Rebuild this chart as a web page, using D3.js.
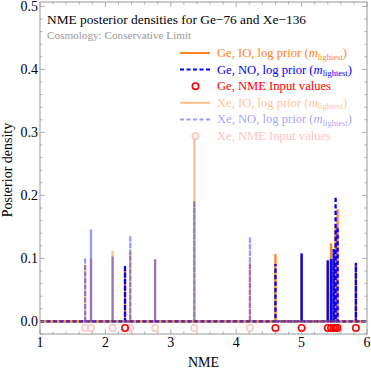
<!DOCTYPE html>
<html>
<head>
<meta charset="utf-8">
<script src="https://cdn.jsdelivr.net/npm/d3@7"></script>
<style>
  body { margin: 0; background: #fff; }
  text { font-family: "Liberation Serif", "DejaVu Serif", serif; }
</style>
</head>
<body>
<div id="chart"></div>
<script>
// NME input values (peak positions)
const geNME = [2.30, 4.60, 5.00, 5.40, 5.45, 5.49, 5.52, 5.55, 5.83];
const xeNME = [1.69, 1.78, 2.11, 2.38, 2.76, 3.36, 4.21];

// posterior density peak heights
const geIO = [0.085, 0.107, 0.105, 0.095, 0.124, 0.100, 0.150, 0.178, 0.090];
const geNO = [0.089, 0.091, 0.108, 0.097, 0.099, 0.115, 0.198, 0.150, 0.093];
const xeIO = [0.090, 0.100, 0.112, 0.110, 0.098, 0.291, 0.094];
const xeNO = [0.101, 0.146, 0.103, 0.136, 0.099, 0.191, 0.134];

const xTicks = [1, 2, 3, 4, 5, 6];
const yTicks = [0.0, 0.1, 0.2, 0.3, 0.4, 0.5];

const W = 371, H = 371;
const pLeft = 40, pRight = 367, pTop = 2, pBottom = 334;

const orange = "#ff8419", blue = "#0000ff", red = "#ff0000";

const svg = d3.select("#chart").append("svg")
  .attr("width", W).attr("height", H);

const x = d3.scaleLinear().domain([1, 6]).range([pLeft, pRight]);
const y = d3.scaleLinear().domain([-0.02, 0.507]).range([pBottom, pTop]);

// clip to plot region
svg.append("clipPath").attr("id", "clip")
  .append("rect").attr("x", pLeft).attr("y", pTop)
  .attr("width", pRight - pLeft).attr("height", pBottom - pTop);

const plot = svg.append("g").attr("clip-path", "url(#clip)");

// density curve: flat baseline with a narrow spike at each NME value
function spikes(pos, hts) {
  const pts = [[1, 0]];
  pos.forEach((p, i) => { pts.push([p, 0], [p, hts[i]], [p, 0]); });
  pts.push([6, 0]);
  return d3.line().x(d => x(d[0])).y(d => y(d[1]))(pts);
}

const series = [
  { pos: geNME, h: geIO, color: orange, op: 1, dash: null },
  { pos: geNME, h: geNO, color: blue, op: 1, dash: "4,2.5" },
  { pos: xeNME, h: xeIO, color: orange, op: 0.5, dash: null },
  { pos: xeNME, h: xeNO, color: blue, op: 0.4, dash: "4,2.5" }
];

plot.selectAll("path.curve")
  .data(series)
  .join("path")
  .attr("class", "curve")
  .attr("d", d => spikes(d.pos, d.h))
  .attr("fill", "none")
  .attr("stroke", d => d.color)
  .attr("stroke-opacity", d => d.op)
  .attr("stroke-width", 2.3)
  .attr("stroke-dasharray", d => d.dash);

// input value markers
plot.selectAll("circle.xe")
  .data(xeNME)
  .join("circle")
  .attr("class", "xe")
  .attr("cx", d => x(d)).attr("cy", y(-0.0105)).attr("r", 3.2)
  .attr("fill", "none").attr("stroke", "#ffc4c4").attr("stroke-width", 1.5);

plot.selectAll("circle.ge")
  .data(geNME)
  .join("circle")
  .attr("class", "ge")
  .attr("cx", d => x(d)).attr("cy", y(-0.0105)).attr("r", 3.2)
  .attr("fill", "none").attr("stroke", red).attr("stroke-width", 1.6);

// frame + ticks
const frameColor = "#9a9a9a";
svg.append("rect")
  .attr("x", pLeft).attr("y", pTop)
  .attr("width", pRight - pLeft).attr("height", pBottom - pTop)
  .attr("fill", "none").attr("stroke", frameColor).attr("stroke-width", 1);

const xMinor = d3.range(1, 6.001, 0.2).filter(v => Math.abs(v - Math.round(v)) > 1e-6);
const yMinor = d3.range(-0.02, 0.507, 0.02).filter(v => Math.abs(v * 10 - Math.round(v * 10)) > 1e-6);

const ticks = svg.append("g").attr("stroke", frameColor).attr("stroke-width", 0.8);
[[xTicks, 5], [xMinor, 2.5]].forEach(([vals, len]) => {
  vals.forEach(v => {
    ticks.append("line").attr("x1", x(v)).attr("x2", x(v)).attr("y1", pBottom).attr("y2", pBottom - len);
    ticks.append("line").attr("x1", x(v)).attr("x2", x(v)).attr("y1", pTop).attr("y2", pTop + len);
  });
});
[[yTicks, 5], [yMinor, 2.5]].forEach(([vals, len]) => {
  vals.forEach(v => {
    ticks.append("line").attr("y1", y(v)).attr("y2", y(v)).attr("x1", pLeft).attr("x2", pLeft + len);
    ticks.append("line").attr("y1", y(v)).attr("y2", y(v)).attr("x1", pRight).attr("x2", pRight - len);
  });
});

// tick labels
svg.append("g").selectAll("text")
  .data(xTicks).join("text")
  .attr("x", d => x(d)).attr("y", 347)
  .attr("text-anchor", "middle").attr("font-size", 14)
  .text(d => d);

svg.append("g").selectAll("text")
  .data(yTicks).join("text")
  .attr("x", 38).attr("y", d => y(d) + 5)
  .attr("text-anchor", "end").attr("font-size", 14)
  .text(d => d.toFixed(1));

// axis labels
svg.append("text")
  .attr("x", x(3.5)).attr("y", 367)
  .attr("text-anchor", "middle").attr("font-size", 14)
  .text("NME");

svg.append("text")
  .attr("transform", "translate(12,170) rotate(-90)")
  .attr("text-anchor", "middle").attr("font-size", 14)
  .text("Posterior density");

// title
svg.append("text")
  .attr("x", 47).attr("y", 24)
  .attr("font-size", 13.4)
  .text("NME posterior densities for Ge\u221276 and Xe\u2212136");
svg.append("text")
  .attr("x", 47).attr("y", 39)
  .attr("font-size", 11.2).attr("fill", "#999")
  .text("Cosmology: Conservative Limit");

// legend
const legendItems = [
  { label: "Ge, IO, log prior (", sub: true, type: "line", color: orange, op: 1, dash: null },
  { label: "Ge, NO, log prior (", sub: true, type: "line", color: blue, op: 1, dash: "4,2.5" },
  { label: "Ge, NME Input values", sub: false, type: "circle", color: red, op: 1 },
  { label: "Xe, IO, log prior (", sub: true, type: "line", color: orange, op: 0.5, dash: null },
  { label: "Xe, NO, log prior (", sub: true, type: "line", color: blue, op: 0.4, dash: "4,2.5" },
  { label: "Xe, NME Input values", sub: false, type: "circle", color: "#ffc4c4", op: 1 }
];

const legend = svg.append("g");
legendItems.forEach((d, i) => {
  const ly = 53 + i * 16.6;
  if (d.type === "line") {
    legend.append("line")
      .attr("x1", 180).attr("x2", 210).attr("y1", ly).attr("y2", ly)
      .attr("stroke", d.color).attr("stroke-opacity", d.op)
      .attr("stroke-width", 2).attr("stroke-dasharray", d.dash);
  } else {
    legend.append("circle")
      .attr("cx", 195.5).attr("cy", ly).attr("r", 3.2)
      .attr("fill", "none").attr("stroke", d.color).attr("stroke-width", 1.6);
  }
  const t = legend.append("text")
    .attr("x", 217).attr("y", ly + 4)
    .attr("font-size", 12.6)
    .attr("fill", d.color).attr("fill-opacity", d.op);
  t.append("tspan").text(d.label);
  if (d.sub) {
    t.append("tspan").attr("font-style", "italic").text("m");
    t.append("tspan").attr("font-size", 8.5).attr("dy", 2.5).text("lightest");
    t.append("tspan").attr("dy", -2.5).text(")");
  }
});
</script>
</body>
</html>
